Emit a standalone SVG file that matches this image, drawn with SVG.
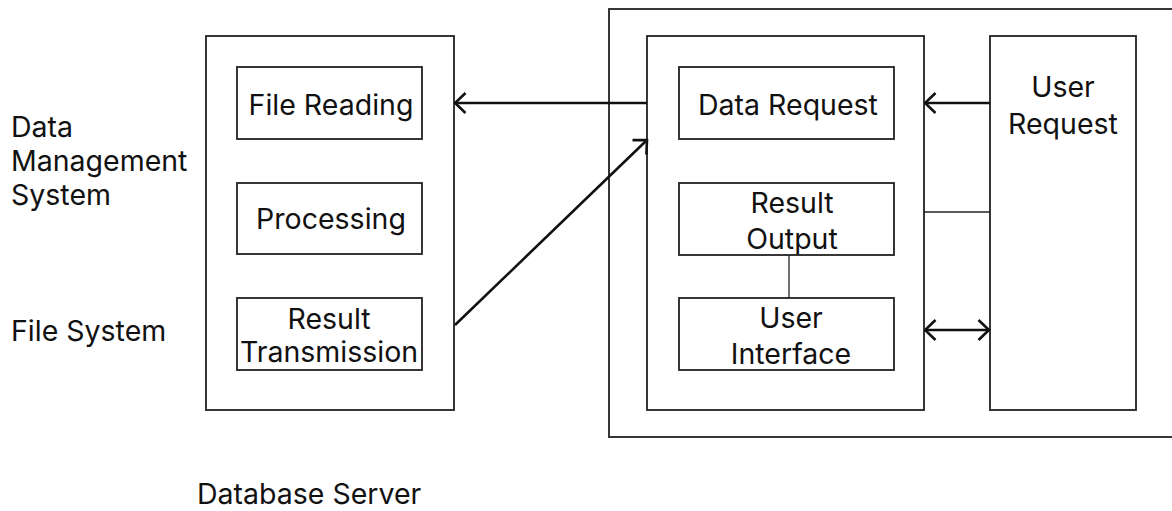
<svg xmlns="http://www.w3.org/2000/svg" width="1172" height="511" viewBox="0 0 1172 511">
<style>
.box{fill:#fff;stroke:#222;stroke-width:1.8}
.frame{fill:none;stroke:#222;stroke-width:1.8}
text{font-family:Inter,"Noto Sans","Liberation Sans",sans-serif;font-size:28.5px;fill:#111}
.c{text-anchor:middle}
.arr{stroke:#111;stroke-width:2.6;fill:none}
.thin{stroke:#222;stroke-width:1.3;fill:none}
</style>
<defs>
<marker id="ah" viewBox="0 0 14 24" refX="12.5" refY="12" markerWidth="14" markerHeight="24" markerUnits="userSpaceOnUse" orient="auto-start-reverse">
<path d="M2,2 L12.5,12 L2,22" fill="none" stroke="#111" stroke-width="2.6"/>
</marker>
</defs>
<g id="labels">
<text x="11" y="137">Data</text>
<text x="11" y="171">Management</text>
<text x="11" y="205">System</text>
<text x="11" y="341">File System</text>
<text x="197" y="504">Database Server</text>
</g>
<g id="outer-frame"><rect class="frame" x="609" y="9" width="570" height="428"/></g>
<g id="database-server"><rect class="box" x="206" y="36" width="248" height="374"/></g>
<g id="file-reading"><rect class="box" x="237" y="67" width="185" height="72"/><text class="c" x="331" y="115">File Reading</text></g>
<g id="processing"><rect class="box" x="237" y="183" width="185" height="71"/><text class="c" x="331" y="229">Processing</text></g>
<g id="result-transmission"><rect class="box" x="237" y="298" width="185" height="72"/><text class="c" x="329" y="329">Result</text><text class="c" x="329" y="362">Transmission</text></g>
<g id="client"><rect class="box" x="647" y="36" width="277" height="374"/></g>
<g id="data-request"><rect class="box" x="679" y="67" width="215" height="72"/><text class="c" x="788" y="115">Data Request</text></g>
<g id="result-output"><rect class="box" x="679" y="183" width="215" height="72"/><text class="c" x="792" y="213">Result</text><text class="c" x="792" y="249">Output</text></g>
<g id="user-interface"><rect class="box" x="679" y="298" width="215" height="72"/><text class="c" x="791" y="328">User</text><text class="c" x="791" y="364">Interface</text></g>
<g id="user-request"><rect class="box" x="990" y="36" width="146" height="374"/><text class="c" x="1063" y="97">User</text><text class="c" x="1063" y="134">Request</text></g>
<g id="connectors">
<line class="arr" x1="647" y1="103" x2="455" y2="103" marker-end="url(#ah)"/>
<line class="arr" x1="455" y1="325" x2="647" y2="140" marker-end="url(#ah)"/>
<line class="arr" x1="990" y1="103" x2="925" y2="103" marker-end="url(#ah)"/>
<line class="thin" x1="924" y1="212" x2="990" y2="212"/>
<line class="thin" x1="789" y1="255" x2="789" y2="298"/>
<line class="arr" x1="925" y1="330" x2="989" y2="330" marker-start="url(#ah)" marker-end="url(#ah)"/>
</g>
</svg>
